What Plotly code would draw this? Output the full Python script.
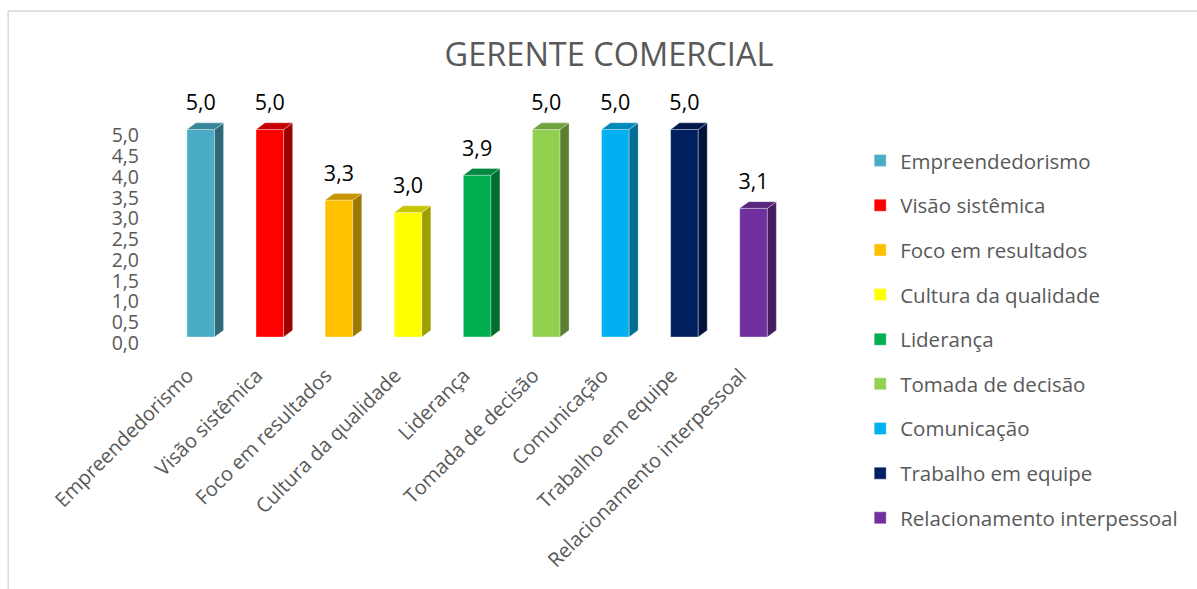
import plotly.graph_objects as go

# ---------------- data ----------------
categories = ["Empreendedorismo", "Visão sistêmica", "Foco em resultados",
              "Cultura da qualidade", "Liderança", "Tomada de decisão",
              "Comunicação", "Trabalho em equipe", "Relacionamento interpessoal"]
values = [5.0, 5.0, 3.3, 3.0, 3.9, 5.0, 5.0, 5.0, 3.1]
colors = ["#4BACC6", "#FF0000", "#FFC000", "#FFFF00", "#00B050",
          "#92D050", "#00B0F0", "#002060", "#7030A0"]
y_tick_vals = [0.0, 0.5, 1.0, 1.5, 2.0, 2.5, 3.0, 3.5, 4.0, 4.5, 5.0]
y_tick_text = ["0,0", "0,5", "1,0", "1,5", "2,0", "2,5", "3,0", "3,5", "4,0", "4,5", "5,0"]
title_text = "GERENTE COMERCIAL"

# ---------------- styling / layout constants ----------------
FONT = "Open Sans"
GRAY = "#595959"
W_PAGE, H_PAGE = 1197, 589
PX_PER_UNIT = 41.45
B = 337.0
Y_RANGE = [0, 6.0]
T = B - Y_RANGE[1] * PX_PER_UNIT
L, R = 141.8, 794.8
X_RANGE = [-0.85, 8.6]
BAR_W = 0.40      # front face width (category units)
DEPTH_X = 0.13    # 3D depth (category units)
DEPTH_Y = 0.16    # 3D depth (value units)
LABEL_OFF = 0.60


def shade(hex_color, f):
    h = hex_color.lstrip("#")
    r, g, b = (int(h[i:i + 2], 16) for i in (0, 2, 4))
    return "#%02X%02X%02X" % (int(r * f), int(g * f), int(b * f))


def px_x(p):
    return (p - L) / (R - L)


def px_y(p):
    return (B - p) / (B - T)


fig = go.Figure()

xs = list(range(len(categories)))
for i, (cat, v, c) in enumerate(zip(categories, values, colors)):
    x0, x1 = i - BAR_W / 2, i + BAR_W / 2
    # side face
    fig.add_trace(go.Scatter(
        x=[x1, x1 + DEPTH_X, x1 + DEPTH_X, x1, x1],
        y=[0, DEPTH_Y, v + DEPTH_Y, v, 0],
        mode="lines", fill="toself", fillcolor=shade(c, 0.62),
        line=dict(width=0.6, color="rgba(255,255,255,0.5)"),
        hoverinfo="skip", showlegend=False))
    # top face
    fig.add_trace(go.Scatter(
        x=[x0, x0 + DEPTH_X, x1 + DEPTH_X, x1, x0],
        y=[v, v + DEPTH_Y, v + DEPTH_Y, v, v],
        mode="lines", fill="toself", fillcolor=shade(c, 0.78),
        line=dict(width=0.6, color="rgba(255,255,255,0.5)"),
        hoverinfo="skip", showlegend=False))
    # front face (legend entry)
    fig.add_trace(go.Bar(
        x=[i], y=[v], name=cat, width=BAR_W, legendgroup=cat,
        marker=dict(color=c, line=dict(width=0.6, color="rgba(255,255,255,0.6)")),
        hovertemplate=cat + ": %{y:.1f}<extra></extra>"))

# data labels
fig.add_trace(go.Scatter(
    x=xs, y=[v + LABEL_OFF for v in values],
    text=[f"{v:.1f}".replace(".", ",") for v in values],
    mode="text", textposition="middle center",
    textfont=dict(family=FONT, size=21.5, color="#000000"),
    hoverinfo="skip", showlegend=False, cliponaxis=False))

# chart frame (light gray border, top & left visible)
fig.add_shape(type="line", xref="paper", yref="paper",
              x0=px_x(8), x1=px_x(1200), y0=px_y(11.5), y1=px_y(11.5),
              line=dict(color="#D9D9D9", width=1.5))
fig.add_shape(type="line", xref="paper", yref="paper",
              x0=px_x(8), x1=px_x(8), y0=px_y(11.5), y1=px_y(592),
              line=dict(color="#D9D9D9", width=1.5))

fig.update_layout(
    width=W_PAGE, height=H_PAGE,
    margin=dict(l=L, r=W_PAGE - R, t=T, b=H_PAGE - B, autoexpand=False),
    paper_bgcolor="white", plot_bgcolor="white",
    barmode="overlay", separators=",.",
    font=dict(family=FONT, color=GRAY, size=20),
    title=dict(text=title_text, x=609 / W_PAGE, xref="container", y=1 - 55 / H_PAGE,
               yref="container", xanchor="center", yanchor="middle",
               font=dict(family=FONT, size=32.5, color=GRAY)),
    xaxis=dict(range=X_RANGE, tickmode="array", tickvals=xs, ticktext=categories,
               tickangle=-45, showgrid=False, zeroline=False, showline=False,
               ticks="", ticklabelstandoff=22, ticklabelshift=-13,
               tickfont=dict(family=FONT, size=20, color=GRAY)),
    yaxis=dict(range=Y_RANGE, tickmode="array", tickvals=y_tick_vals,
               ticktext=y_tick_text, showgrid=False, zeroline=False,
               showline=False, ticks="", ticklabelstandoff=2, ticklabelshift=6,
               tickfont=dict(family=FONT, size=19.5, color=GRAY)),
    legend=dict(x=px_x(860), xanchor="left", y=px_y(141), yanchor="top",
                font=dict(family=FONT, size=20.5, color=GRAY),
                tracegroupgap=15, bgcolor="rgba(0,0,0,0)", maxheight=520),
)

fig.write_html("out.html")
